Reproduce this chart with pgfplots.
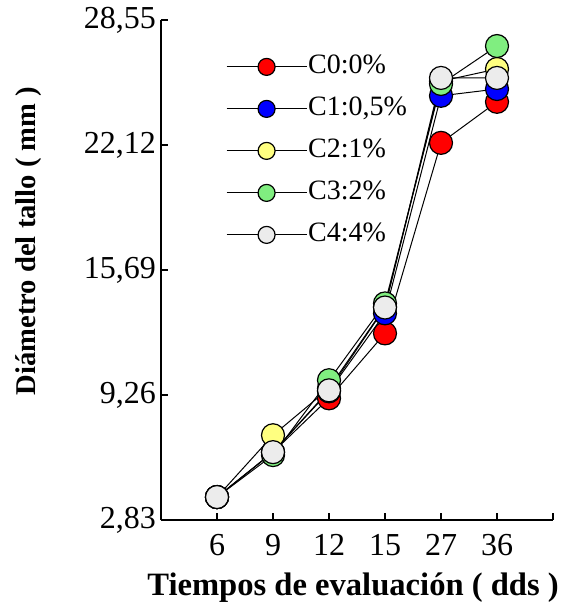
\documentclass[border=0pt]{standalone}
\usepackage{fontspec}
\setmainfont{Liberation Serif}
\usepackage{pgfplots}
\pgfplotsset{compat=1.18}
\definecolor{cz}{RGB}{255,0,0}
\definecolor{cu}{RGB}{0,0,255}
\definecolor{cd}{RGB}{255,255,128}
\definecolor{ct}{RGB}{128,238,128}
\definecolor{cc}{RGB}{236,236,236}
\pgfplotsset{ser/.style={draw=black, line width=0.5pt, mark=*, mark size=5.75pt, mark options={draw=black, fill=#1, line width=0.6pt, solid}}}
\begin{document}
\begin{tikzpicture}
\useasboundingbox (-80.5pt,-44pt) rectangle (212.5pt,260pt);
\begin{axis}[
  at={(0,0)}, anchor=south west,
  scale only axis, width=196pt, height=250pt,
  xmin=-1, xmax=6, ymin=2.83, ymax=28.55,
  axis x line*=bottom, axis y line*=left,
  axis line style={-, line width=0.7pt},
  tick align=inside, major tick length=3.5pt,
  tick style={black, line width=0.6pt},
  xtick={0,1,2,3,4,5,6}, xticklabels={6,9,12,15,27,36,{}},
  ytick={2.83,9.26,15.69,22.12,28.55},
  yticklabels={{2,83},{9,26},{15,69},{22,12},{28,55}},
  /pgf/number format/assume math mode=true,
  ticklabel style={font=\fontsize{16}{18}\selectfont},
  xticklabel style={yshift=-3.8pt},
  yticklabel style={xshift=1pt},
  every axis y label/.style={at={(axis description cs:-0.337,0.558)},rotate=90,anchor=center},
  every axis x label/.style={at={(axis description cs:0.49,-0.135)},anchor=center},
  xlabel={\fontsize{16.3}{18}\selectfont\bfseries Tiempos de evaluación ( dds )},
  ylabel={\fontsize{14.3}{17}\selectfont\bfseries Diámetro del tallo ( mm )},
  clip=false,
  legend image code/.code={\draw[#1,mark repeat=2,mark phase=2,mark size=4.25pt] plot coordinates {(0pt,0pt) (20pt,0pt) (40pt,0pt)};},
  legend cell align=left,
  legend style={at={(axis description cs:0.165,0.935)}, anchor=north west, draw=none, fill=none,
    font=\fontsize{14}{16}\selectfont, inner sep=0pt,
    nodes={text height=10pt, text depth=3pt, inner sep=0.5pt},
    row sep=7pt},
]
\addplot[ser=cz] coordinates {(0,4.01) (1,6.32) (2,9.09) (3,12.43) (4,22.23) (5,24.34)};
\addlegendentry{C0:0\%}
\addplot[ser=cu] coordinates {(0,4.01) (1,6.32) (2,9.45) (3,13.46) (4,24.65) (5,25.0)};
\addlegendentry{C1:0,5\%}
\addplot[ser=cd] coordinates {(0,4.01) (1,7.19) (2,9.6) (3,13.8) (4,25.4) (5,26.03)};
\addlegendentry{C2:1\%}
\addplot[ser=ct] coordinates {(0,4.01) (1,6.17) (2,10.02) (3,13.97) (4,25.26) (5,27.21)};
\addlegendentry{C3:2\%}
\addplot[ser=cc] coordinates {(0,4.01) (1,6.32) (2,9.5) (3,13.76) (4,25.57) (5,25.57)};
\addlegendentry{C4:4\%}
\end{axis}
\end{tikzpicture}
\end{document}
